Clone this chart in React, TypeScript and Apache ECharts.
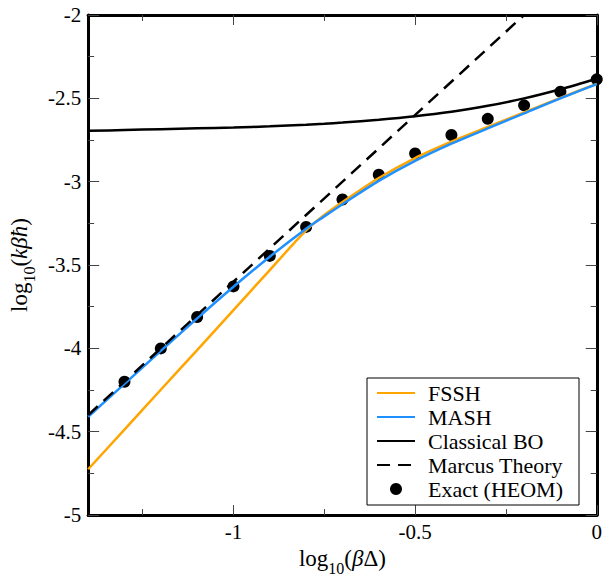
import React, { useEffect, useRef } from "react";
import * as echarts from "echarts";

const FONT = "'Liberation Serif', 'Times New Roman', serif";

const curveX = [-1.4, -1.3, -1.2, -1.1, -1.0, -0.9, -0.8, -0.75, -0.7, -0.6, -0.5, -0.4, -0.3, -0.2, -0.1, 0];
const fsshY = [-4.725, -4.487, -4.248, -4.01, -3.77, -3.53, -3.292, -3.2, -3.122, -2.978, -2.858, -2.76, -2.672, -2.585, -2.497, -2.413];
const mashY = [-4.41, -4.213, -4.015, -3.82, -3.63, -3.45, -3.282, -3.208, -3.135, -2.995, -2.875, -2.772, -2.68, -2.59, -2.5, -2.415];
const classicalY = [-2.695, -2.69, -2.685, -2.68, -2.675, -2.668, -2.658, -2.652, -2.645, -2.628, -2.607, -2.58, -2.545, -2.5, -2.445, -2.382];

const marcusX = [-1.4, -0.2];
const marcusY = [-4.4, -2.0];

const exactX = [-1.3, -1.2, -1.1, -1.0, -0.9, -0.8, -0.7, -0.6, -0.5, -0.4, -0.3, -0.2, -0.1, 0];
const exactY = [-4.2, -4.0, -3.812, -3.628, -3.445, -3.271, -3.107, -2.958, -2.831, -2.72, -2.623, -2.542, -2.46, -2.386];

const xMajor = [-1, -0.5, 0];
const xMinor = [-1.25, -0.75, -0.25];

const zip = (xs: number[], ys: number[]) => xs.map((x, i) => [x, ys[i]]);

const nameRich = {
  n: { fontFamily: FONT, fontSize: 23, color: "#000", verticalAlign: "bottom", padding: [0, 0, 6, 0] },
  i: { fontFamily: FONT, fontSize: 23, color: "#000", fontStyle: "italic", verticalAlign: "bottom", padding: [0, 0, 6, 0] },
  s: { fontFamily: FONT, fontSize: 16, color: "#000", verticalAlign: "bottom" },
};

export default function App() {
  const ref = useRef<HTMLDivElement>(null);
  useEffect(() => {
    if (!ref.current) return;
    const chart = echarts.init(ref.current, undefined, { renderer: "svg" });
    const axisLine = { show: true, onZero: false, lineStyle: { color: "#000", width: 3 } };
    const tickStyle = { color: "#444", width: 1 };
    const xBase = { type: "value", min: -1.4, max: 0, splitLine: { show: false } };
    const hideSym = { opacity: 0 };
    chart.setOption({
      animation: false,
      backgroundColor: "#fff",
      textStyle: { fontFamily: FONT },
      grid: { left: 87, right: 6, top: 15, bottom: 54 },
      xAxis: [
        {
          ...xBase,
          position: "bottom",
          axisLine,
          axisTick: { inside: true, length: 10, lineStyle: tickStyle, customValues: xMajor },
          axisLabel: { customValues: xMajor, fontFamily: FONT, fontSize: 21, color: "#000", margin: 6 },
          name: "{n|log}{s|10}{n|(}{i|β}{n|Δ)}",
          nameLocation: "middle",
          nameGap: 25,
          nameTextStyle: { rich: nameRich },
        },
        {
          ...xBase,
          position: "bottom",
          axisLine: { show: false },
          axisTick: { inside: true, length: 6, lineStyle: tickStyle, customValues: xMinor },
          axisLabel: { show: false },
        },
        {
          ...xBase,
          position: "top",
          axisLine,
          axisTick: { inside: true, length: 10, lineStyle: tickStyle, customValues: xMajor },
          axisLabel: { show: false },
        },
        {
          ...xBase,
          position: "top",
          axisLine: { show: false },
          axisTick: { inside: true, length: 6, lineStyle: tickStyle, customValues: xMinor },
          axisLabel: { show: false },
        },
      ],
      yAxis: [
        {
          type: "value",
          min: -5,
          max: -2,
          interval: 0.5,
          position: "left",
          axisLine,
          splitLine: { show: false },
          axisTick: { inside: true, length: 11, lineStyle: tickStyle },
          minorTick: { show: true, splitNumber: 2, length: 6, lineStyle: tickStyle },
          axisLabel: { fontFamily: FONT, fontSize: 21, color: "#000", margin: 7 },
          name: "{n|log}{s|10}{n|(}{i|kβħ}{n|)}",
          nameLocation: "middle",
          nameGap: 48,
          nameTextStyle: { rich: nameRich },
        },
        {
          type: "value",
          min: -5,
          max: -2,
          interval: 0.5,
          position: "right",
          axisLine,
          splitLine: { show: false },
          axisTick: { inside: true, length: 11, lineStyle: tickStyle },
          minorTick: { show: true, splitNumber: 2, length: 6, lineStyle: tickStyle },
          axisLabel: { show: false },
        },
      ],
      legend: {
        orient: "vertical",
        left: 367,
        top: 378,
        itemWidth: 38,
        itemHeight: 12,
        itemGap: 2,
        padding: [4, 16, 5, 9],
        borderColor: "#000",
        borderWidth: 1,
        backgroundColor: "#fff",
        textStyle: { fontFamily: FONT, fontSize: 22, color: "#000", lineHeight: 20, padding: [0, 0, 0, 8] },
        data: [
          { name: "FSSH", itemStyle: hideSym },
          { name: "MASH", itemStyle: hideSym },
          { name: "Classical BO", itemStyle: hideSym },
          { name: "Marcus Theory", itemStyle: hideSym },
          { name: "Exact (HEOM)" },
        ],
      },
      series: [
        {
          name: "FSSH",
          type: "line",
          data: zip(curveX, fsshY),
          symbol: "none",
          smooth: 0.3,
          lineStyle: { color: "#FFA500", width: 2.5 },
          itemStyle: { color: "#FFA500" },
        },
        {
          name: "MASH",
          type: "line",
          data: zip(curveX, mashY),
          symbol: "none",
          smooth: 0.3,
          lineStyle: { color: "#1E90FF", width: 2.5 },
          itemStyle: { color: "#1E90FF" },
        },
        {
          name: "Classical BO",
          type: "line",
          data: zip(curveX, classicalY),
          symbol: "none",
          smooth: 0.3,
          lineStyle: { color: "#000", width: 2.5 },
          itemStyle: { color: "#000" },
        },
        {
          name: "Marcus Theory",
          type: "line",
          data: zip(marcusX, marcusY),
          symbol: "none",
          lineStyle: { color: "#000", width: 2.5, type: [13, 8] },
          itemStyle: { color: "#000" },
        },
        {
          name: "Exact (HEOM)",
          type: "scatter",
          data: zip(exactX, exactY),
          symbol: "circle",
          symbolSize: 12,
          clip: false,
          itemStyle: { color: "#000", opacity: 1 },
        },
      ],
    });
    return () => chart.dispose();
  }, []);
  return <div ref={ref} style={{ position: "fixed", left: 0, top: 0, width: 605, height: 581 }} />;
}
